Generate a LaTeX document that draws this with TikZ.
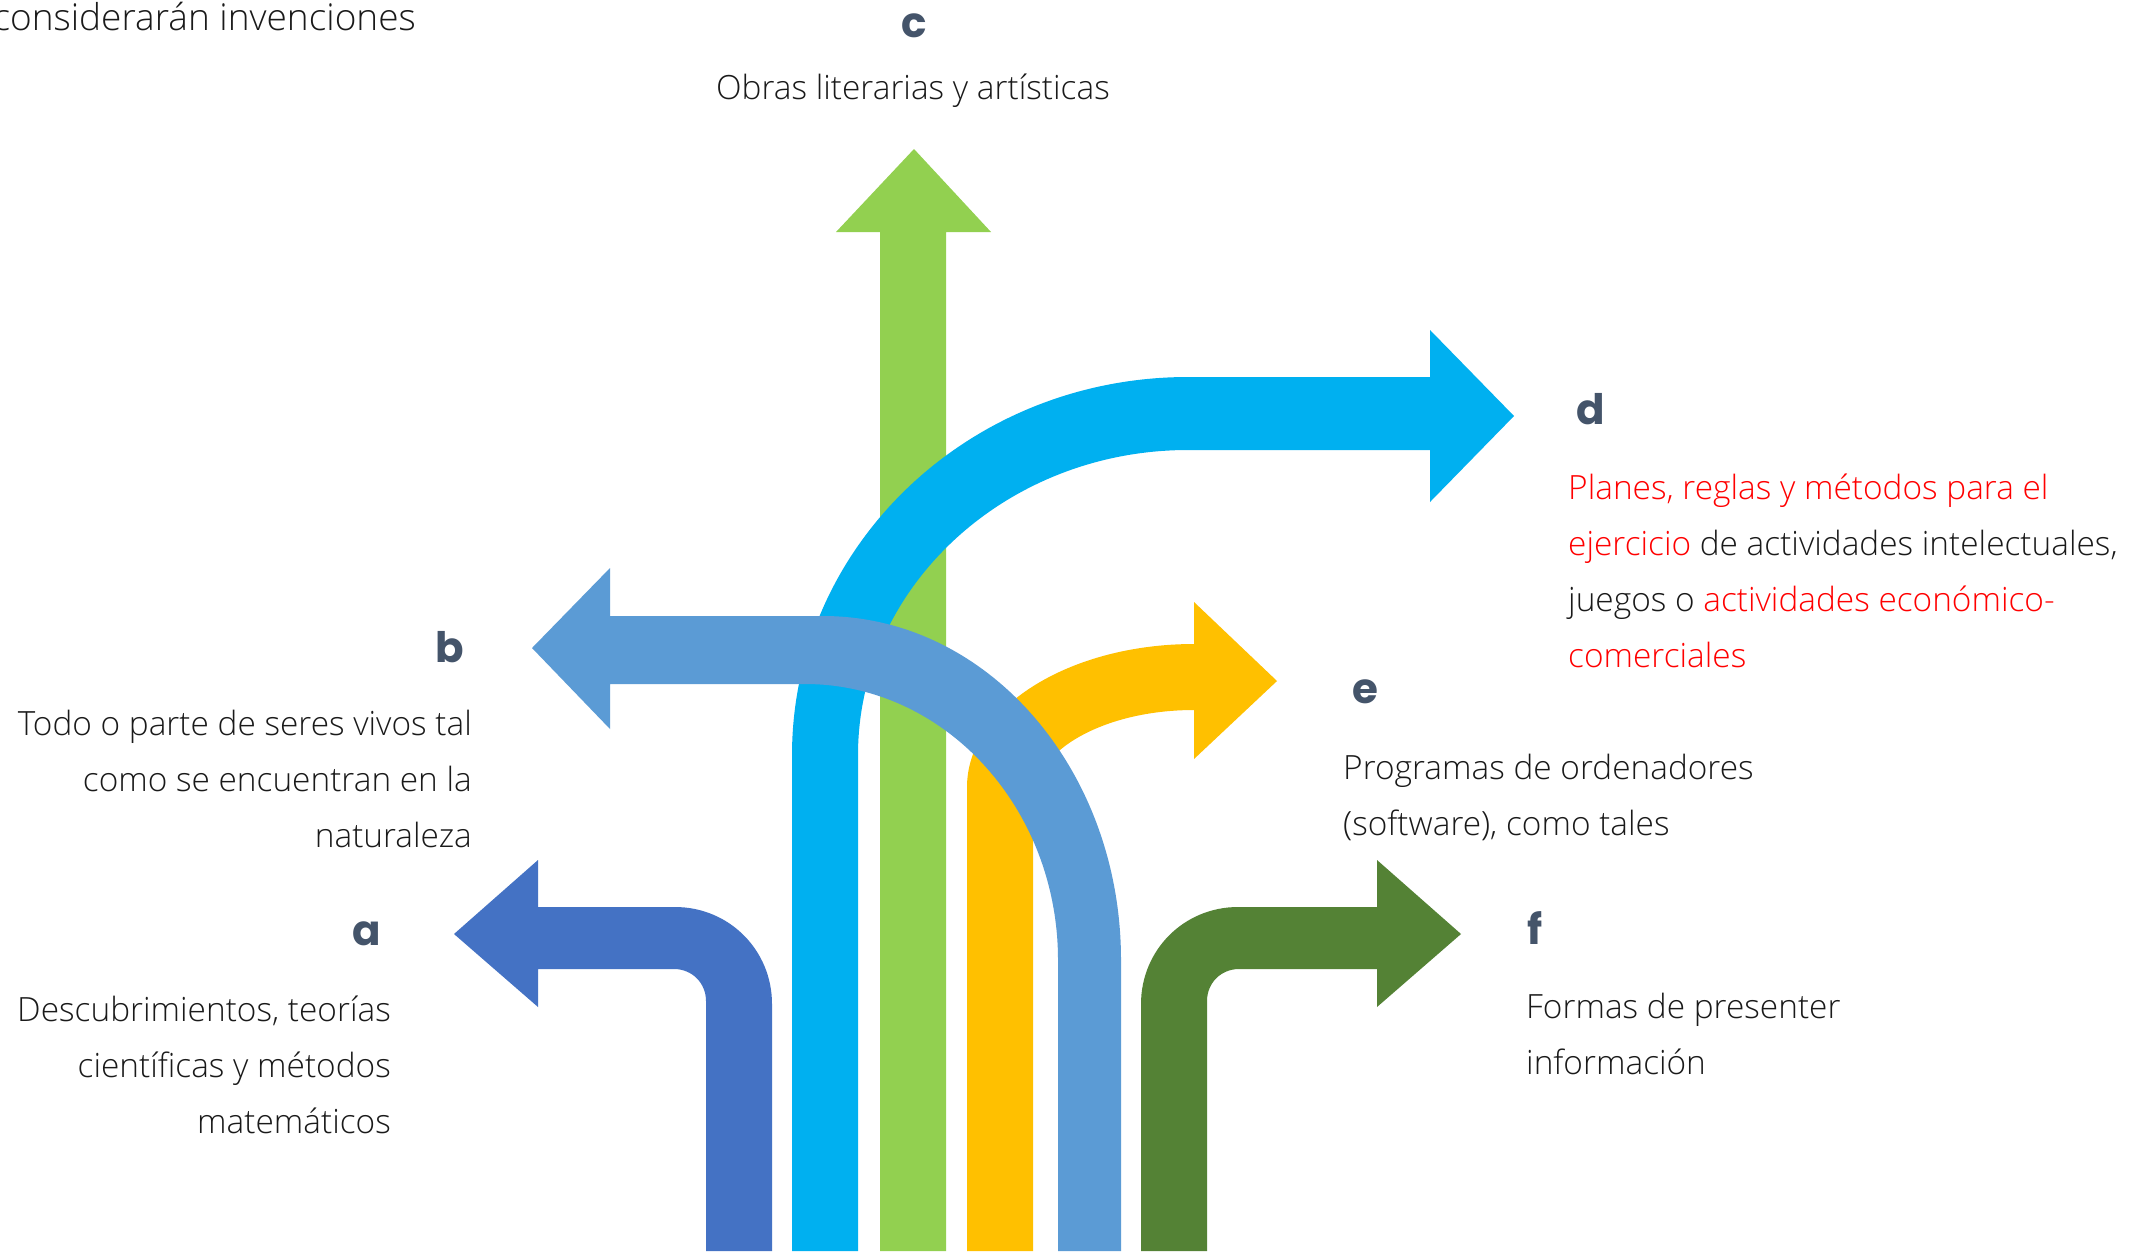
\documentclass[tikz,border=0pt]{standalone}
\usepackage{fontspec}
\setmainfont{Open Sans Light}
\newfontfamily\lblfont{Poppins}
\definecolor{colA}{HTML}{4472C4}
\definecolor{colB}{HTML}{5B9BD5}
\definecolor{colC}{HTML}{92D050}
\definecolor{colD}{HTML}{00B0F0}
\definecolor{colE}{HTML}{FFC000}
\definecolor{colF}{HTML}{548235}
\definecolor{lblcol}{HTML}{44546A}
\definecolor{txtcol}{HTML}{1A1A1A}
\definecolor{redtxt}{HTML}{FF0000}
\begin{document}
\begin{tikzpicture}[x=1pt,y=-1pt,
  lbl/.style={font=\lblfont\bfseries\fontsize{42}{42}\selectfont, text=lblcol, inner sep=0pt, anchor=base},
  txt/.style={font=\fontsize{33.4}{56}\selectfont, text=txtcol, inner sep=0pt}]
\useasboundingbox[fill=white] (0,0) rectangle (2151,1251);

% c : straight up
\fill[colC] (880,1251) -- (880,232) -- (836,232) -- (914,149) -- (991,232) -- (946,232) -- (946,1251) -- cycle;

% d : up then right
\fill[colD] (792,1251) -- (792,755)
  .. controls (792,546) and (969,377) .. (1188,377)
  -- (1430,377) -- (1430,330) -- (1514,416) -- (1430,502) -- (1430,450) -- (1188,450)
  .. controls (1006,450) and (858,587) .. (858,755)
  -- (858,1251) -- cycle;

% e : up then right
\fill[colE] (967,1251) -- (967,787)
  .. controls (967,708) and (1069,644) .. (1194,644)
  -- (1194,602) -- (1277,681) -- (1194,759) -- (1194,710)
  .. controls (1105,710) and (1033,750) .. (1033,800)
  -- (1033,1251) -- cycle;

% a : up then left
\fill[colA] (706,1251) -- (706,1001)
  .. controls (706,983) and (692,969) .. (674,969)
  -- (538,969) -- (538,1007) -- (454,934) -- (538,860) -- (538,907) -- (675,907)
  .. controls (729,907) and (772,950) .. (772,1004)
  -- (772,1251) -- cycle;

% f : up then right
\fill[colF] (1141,1251) -- (1141,1004)
  .. controls (1141,950) and (1184,907) .. (1238,907)
  -- (1377,907) -- (1377,860) -- (1461,934) -- (1377,1007) -- (1377,969) -- (1239,969)
  .. controls (1221,969) and (1207,983) .. (1207,1001)
  -- (1207,1251) -- cycle;

% b : up then left (on top)
\fill[colB] (1058,1251) -- (1058,960)
  .. controls (1058,808) and (945,684) .. (805,684)
  -- (610,684) -- (610,729) -- (532,648) -- (610,568) -- (610,616) -- (823,616)
  .. controls (988,616) and (1121,770) .. (1121,960)
  -- (1121,1251) -- cycle;

% labels
\node[lbl] (la) at (367,945) {a};
\node[lbl] (lb) at (450,662) {b};
\node[lbl] (lc) at (914,37) {c};
\node[lbl] (ld) at (1591,424) {d};
\node[lbl] (le) at (1365,703) {e};
\node[lbl] (lf) at (1535,944) {f};

% texts (base anchor = baseline of the last line)
\node[txt, font=\fontsize{37}{56}\selectfont, anchor=base east] (top) at (416,30) {considerarán invenciones};
\node[txt, anchor=base] (tc) at (913,99) {Obras literarias y artísticas};
\node[txt, anchor=base east, align=right] (ta) at (391,1133)
  {Descubrimientos, teorías\\científicas y métodos\\matemáticos};
\node[txt, anchor=base east, align=right] (tb) at (472,847)
  {Todo o parte de seres vivos tal\\como se encuentran en la\\naturaleza};
\node[txt, anchor=base west, align=left] (td) at (1568,667)
  {\textcolor{redtxt}{Planes, reglas y métodos para el}\\\textcolor{redtxt}{ejercicio} de actividades intelectuales,\\juegos o \textcolor{redtxt}{actividades económico-}\\\textcolor{redtxt}{comerciales}};
\node[txt, anchor=base west, align=left] (te) at (1343,835)
  {Programas de ordenadores\\(software), como tales};
\node[txt, anchor=base west, align=left] (tf) at (1526,1074)
  {Formas de presenter\\información};
\end{tikzpicture}
\end{document}
